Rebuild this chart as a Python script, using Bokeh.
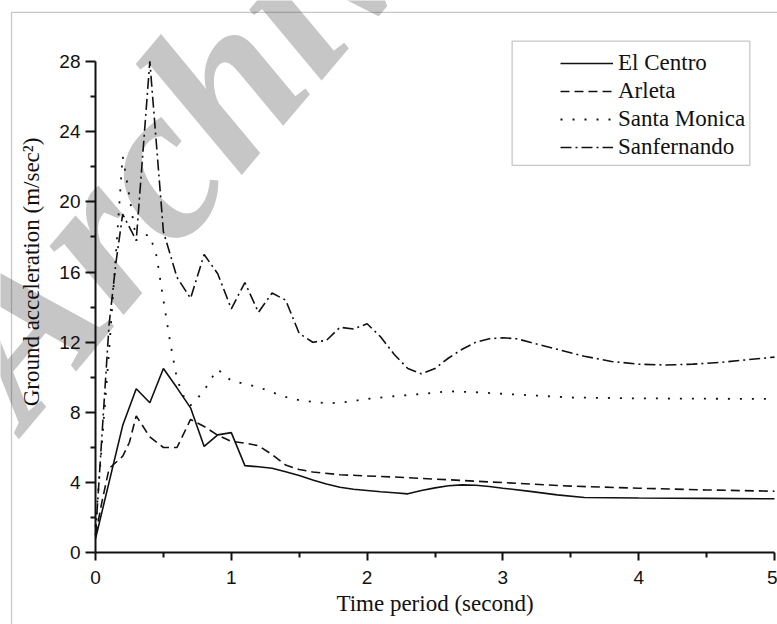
import math

from bokeh.embed import file_html
from bokeh.models import (BoxAnnotation, FixedTicker, Label, Legend,
                          LegendItem, Range1d)
from bokeh.plotting import figure
from bokeh.resources import INLINE

# Ground acceleration response (m/sec^2) against time period (s)
el_centro_t = [0.0, 0.2, 0.3, 0.4, 0.5, 0.6, 0.7, 0.8, 0.9, 1.0, 1.1, 1.2, 1.3,
               1.4, 1.5, 1.6, 1.7, 1.8, 1.9, 2.0, 2.1, 2.2, 2.3, 2.4, 2.5, 2.6,
               2.7, 2.8, 2.9, 3.0, 3.2, 3.4, 3.6, 4.0, 4.5, 5.0]
el_centro_a = [0.8, 7.25, 9.35, 8.55, 10.5, 9.4, 8.26, 6.06, 6.72, 6.85, 4.97,
               4.9, 4.82, 4.62, 4.4, 4.15, 3.92, 3.74, 3.62, 3.55, 3.48, 3.42,
               3.36, 3.55, 3.7, 3.82, 3.87, 3.85, 3.78, 3.68, 3.5, 3.3, 3.15,
               3.12, 3.1, 3.08]

arleta_t = [0.0, 0.05, 0.1, 0.2, 0.25, 0.3, 0.4, 0.5, 0.6, 0.7, 0.8, 0.9, 1.0,
            1.1, 1.2, 1.3, 1.4, 1.5, 1.6, 1.8, 2.0, 2.2, 2.5, 3.0, 3.5, 4.0,
            4.5, 5.0]
arleta_a = [1.0, 3.0, 4.8, 5.5, 6.3, 7.8, 6.6, 6.0, 6.0, 7.6, 7.2, 6.7, 6.35,
            6.25, 6.1, 5.6, 5.0, 4.75, 4.6, 4.45, 4.38, 4.32, 4.2, 4.0, 3.8,
            3.68, 3.58, 3.51]

santa_monica_t = [0.0, 0.05, 0.1, 0.15, 0.2, 0.25, 0.3, 0.35, 0.4, 0.45, 0.5,
                  0.55, 0.6, 0.65, 0.7, 0.75, 0.8, 0.85, 0.9, 1.0, 1.1, 1.2,
                  1.3, 1.4, 1.5, 1.6, 1.7, 1.8, 1.9, 2.0, 2.2, 2.4, 2.6, 2.8,
                  3.0, 3.5, 4.0, 4.5, 5.0]
santa_monica_a = [1.5, 6.5, 11.5, 17.0, 22.6, 20.3, 17.8, 18.1, 18.1, 16.9,
                  14.4, 12.0, 9.9, 8.9, 8.4, 8.8, 9.25, 9.9, 10.45, 9.8, 9.62,
                  9.44, 9.15, 8.88, 8.7, 8.6, 8.52, 8.55, 8.65, 8.77, 8.92,
                  9.05, 9.2, 9.15, 9.06, 8.85, 8.8, 8.78, 8.77]

sanfernando_t = [0.0, 0.05, 0.1, 0.15, 0.2, 0.3, 0.4, 0.5, 0.6, 0.7, 0.8, 0.9,
                 1.0, 1.1, 1.2, 1.3, 1.4, 1.5, 1.6, 1.7, 1.8, 1.9, 2.0, 2.1,
                 2.2, 2.3, 2.4, 2.5, 2.6, 2.7, 2.8, 2.9, 3.0, 3.1, 3.2, 3.4,
                 3.6, 3.8, 4.0, 4.2, 4.4, 4.6, 4.8, 5.0]
sanfernando_a = [1.0, 7.0, 13.0, 16.5, 19.3, 17.8, 28.0, 18.3, 15.7, 14.5,
                 17.0, 15.9, 13.9, 15.4, 13.7, 14.8, 14.4, 12.5, 12.0, 12.1,
                 12.85, 12.75, 13.05, 12.3, 11.3, 10.5, 10.2, 10.5, 11.1, 11.6,
                 12.0, 12.2, 12.25, 12.2, 12.0, 11.6, 11.2, 10.9, 10.75, 10.7,
                 10.75, 10.85, 11.0, 11.15]

x_ticks = [0, 1, 2, 3, 4, 5]
x_minor = [0.5, 1.5, 2.5, 3.5, 4.5]
y_ticks = [0, 4, 8, 12, 16, 20, 24, 28]
y_minor = [2, 6, 10, 14, 18, 22, 26]

SERIF = "Liberation Serif"
SANS = "Liberation Sans"
INK = "#111111"

# The frame fills the whole canvas; the axes sit at t = 0 and a = 0 inside it,
# so the side titles, page border and watermark can share the same space.
p = figure(width=777, height=624, output_backend="svg", toolbar_location=None,
           x_range=Range1d(-0.6996, 5.0221), y_range=Range1d(-4.085, 31.47),
           min_border=0, min_border_left=0, min_border_right=0,
           min_border_top=0, min_border_bottom=0,
           background_fill_color="white", border_fill_color="white")
p.outline_line_color = None
p.grid.visible = False

# faint diagonal watermark behind everything
p.add_layout(Label(x=-0.24, y=5.2, text="Archive", angle=0.87,
                   text_font=SERIF, text_font_style="bold italic",
                   text_font_size="220px", text_color="#c6c6c6",
                   level="underlay"))

# page border along the left and top edges
p.add_layout(BoxAnnotation(left=-0.6186, top=30.79, right=6.5, bottom=-6.0,
                           fill_alpha=0.0, line_color="#444444",
                           line_width=1.3, level="underlay"))

# axes
for ax in (p.xaxis[0], p.yaxis[0]):
    ax.fixed_location = 0
    ax.axis_line_width = 2
    ax.axis_line_color = INK
    ax.major_tick_line_width = 2
    ax.minor_tick_line_width = 2
    ax.major_tick_line_color = INK
    ax.minor_tick_line_color = INK
    ax.major_tick_in = 0
    ax.minor_tick_in = 0
    ax.major_label_text_font = SANS
    ax.major_label_text_font_size = "19px"
    ax.major_label_text_color = INK

p.xaxis.ticker = FixedTicker(ticks=x_ticks, minor_ticks=x_minor)
p.xaxis.bounds = (0, 5)
p.xaxis.major_tick_out = 8
p.xaxis.minor_tick_out = 5
p.xaxis.major_label_standoff = 10
p.xaxis.axis_label = "Time period (second)"
p.xaxis.axis_label_text_font = SERIF
p.xaxis.axis_label_text_font_style = "normal"
p.xaxis.axis_label_text_font_size = "23px"
p.xaxis.axis_label_text_color = INK
p.xaxis.axis_label_standoff = 4

p.yaxis.ticker = FixedTicker(ticks=y_ticks, minor_ticks=y_minor)
p.yaxis.bounds = (0, 28)
p.yaxis.major_tick_out = 10
p.yaxis.minor_tick_out = 5
p.yaxis.major_label_standoff = 5

p.add_layout(Label(x=-0.471, y=16.0, text="Ground acceleration (m/sec\u00b2)",
                   angle=math.pi / 2, text_align="center",
                   text_baseline="middle", text_font=SERIF,
                   text_font_size="23px", text_color=INK))

# the four records
r1 = p.line(el_centro_t, el_centro_a, line_color=INK, line_width=1.6)
r2 = p.line(arleta_t, arleta_a, line_color=INK, line_width=1.6,
            line_dash="9 5")
r3 = p.line(santa_monica_t, santa_monica_a, line_color=INK, line_width=1.8,
            line_dash="2 10")
r4 = p.line(sanfernando_t, sanfernando_a, line_color=INK, line_width=1.6,
            line_dash="11 4 2 4")

# legend frame, then the legend entries on top of it
p.add_layout(BoxAnnotation(left=3.068, right=4.818, bottom=22.07, top=29.15,
                           fill_color="white", fill_alpha=1.0,
                           line_color="#444444", line_width=1.3))

legend = Legend(items=[LegendItem(label="El Centro", renderers=[r1]),
                       LegendItem(label="Arleta", renderers=[r2]),
                       LegendItem(label="Santa Monica", renderers=[r3]),
                       LegendItem(label="Sanfernando", renderers=[r4])],
                location=(560, 464), padding=0, margin=0, spacing=2,
                glyph_width=53, glyph_height=20, label_height=20,
                label_standoff=5, border_line_color=None,
                background_fill_alpha=0.0, label_text_font=SERIF,
                label_text_font_size="23px", label_text_color=INK)
p.add_layout(legend, "center")

open("out.html", "w").write(file_html(p, INLINE))
